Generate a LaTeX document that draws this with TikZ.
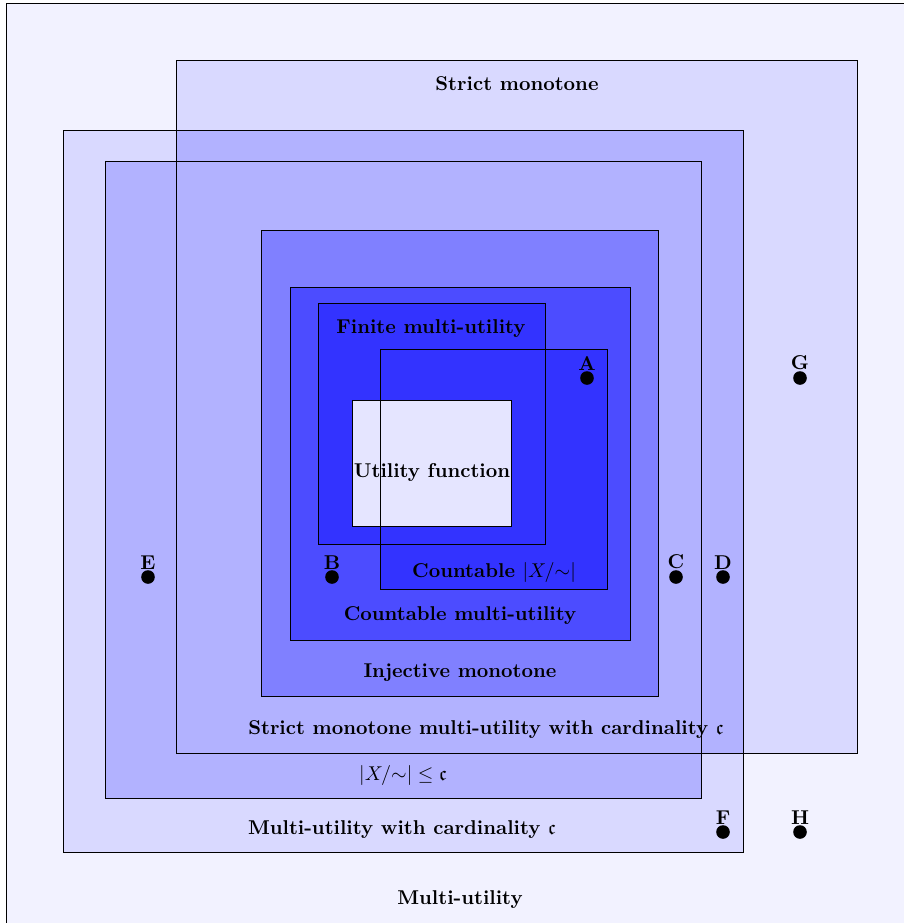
\documentclass[tikz,border=0pt]{standalone}
\usepackage{amssymb}
\begin{document}
\begin{tikzpicture}[x=0.5pt,y=-0.5pt,
  box/.style={draw=black,line width=0.5pt},
  lbl/.style={font=\bfseries,inner sep=0pt},
  pt/.style={circle,fill=black,inner sep=0pt,minimum size=6.8pt},
  ptl/.style={font=\bfseries,inner sep=0pt,anchor=south}]
\useasboundingbox (0,0) rectangle (904,923);
\clip (0,0) rectangle (904,923);
% fills
\fill[blue!5] (6,3) rectangle (1000,1000);
\fill[blue!15] (176,60) rectangle (857,753);
\fill[blue!15] (63,130) rectangle (743,852);
\fill[blue!30] (105,161) rectangle (701,798);
\fill[blue!30] (176,130) rectangle (743,753);
\fill[blue!50] (261,230) rectangle (658,696);
\fill[blue!70] (290,287) rectangle (630,640);
\fill[blue!80] (318,303) rectangle (545,544);
\fill[blue!80] (380,349) rectangle (607,589);
\fill[blue!10] (352,400) rectangle (511,526);
% outlines
\draw[box] (6,3) rectangle (1000,1000);
\draw[box] (176,60) rectangle (857,753);
\draw[box] (63,130) rectangle (743,852);
\draw[box] (105,161) rectangle (701,798);
\draw[box] (261,230) rectangle (658,696);
\draw[box] (290,287) rectangle (630,640);
\draw[box] (318,303) rectangle (545,544);
\draw[box] (380,349) rectangle (607,589);
\draw[box] (352,400) rectangle (511,526);
% labels
\node[lbl] (lsm) at (517,84) {Strict monotone};
\node[lbl] (lfm) at (431,329) {Finite multi-utility};
\node[lbl] (luf) at (432,472) {Utility function};
\node[lbl] (lcx) at (494,572) {Countable $|X/{\sim}|$};
\node[lbl] (lcm) at (460,616) {Countable multi-utility};
\node[lbl] (lim) at (460,673) {Injective monotone};
\node[lbl] (lsmc) at (486,730) {Strict monotone multi-utility with cardinality $\mathfrak{c}$};
\node[inner sep=0pt] (lxc) at (403,775) {$|X/{\sim}|\leq\mathfrak{c}$};
\node[lbl] (lmc) at (402,830) {Multi-utility with cardinality $\mathfrak{c}$};
\node[lbl] (lmu) at (460,900) {Multi-utility};
% points
\node[pt] (A) at (587,378) {};
\node[pt] (G) at (800,378) {};
\node[pt] (E) at (148,577) {};
\node[pt] (B) at (332,577) {};
\node[pt] (C) at (676,577) {};
\node[pt] (D) at (723,577) {};
\node[pt] (F) at (723,832) {};
\node[pt] (H) at (800,832) {};
\foreach \p in {A,G,E,B,C,D,F,H}
  \node[ptl] (l\p) at ([yshift=0.2pt]\p.north) {\p};
\end{tikzpicture}
\end{document}
